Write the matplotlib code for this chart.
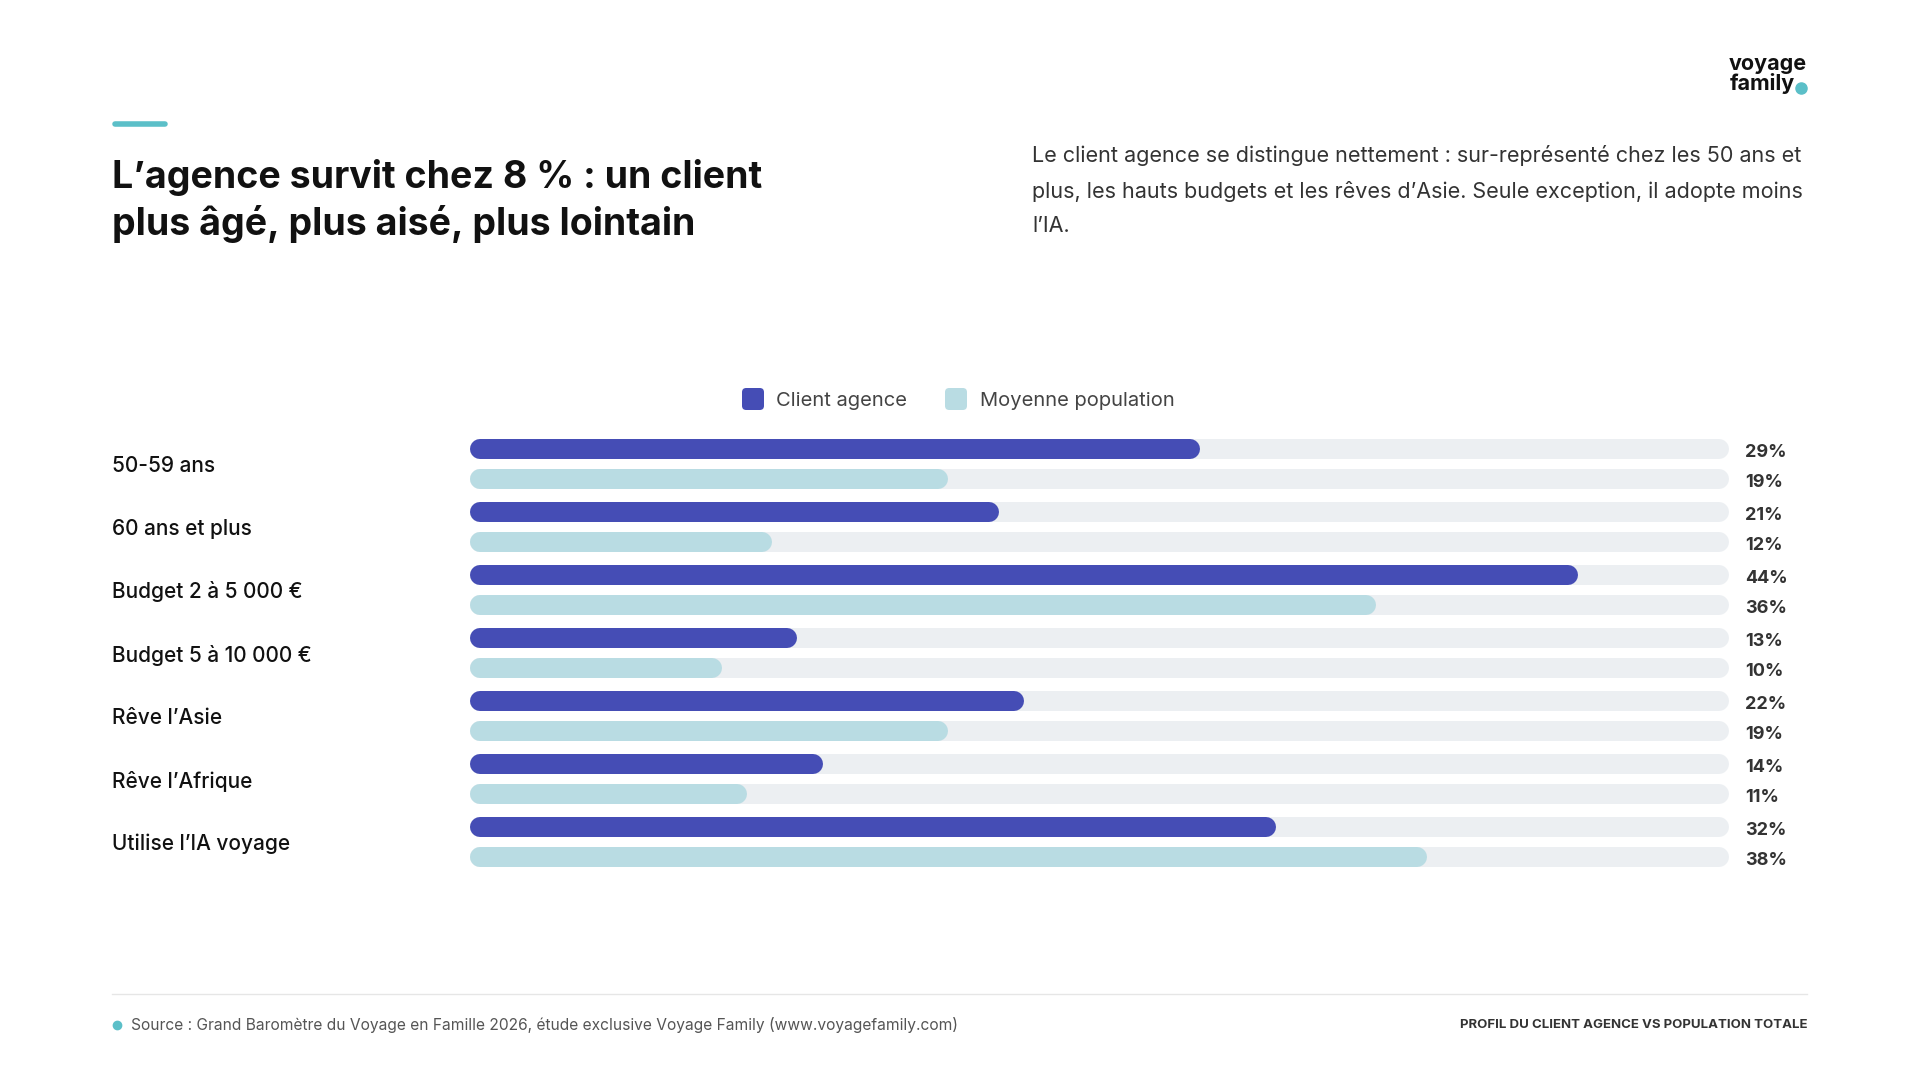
"""
Profil du client agence vs population totale: paired horizontal bars.
"""
import matplotlib.pyplot as plt
from matplotlib.patches import FancyBboxPatch
from matplotlib.transforms import blended_transform_factory

plt.rcParams['font.family'] = ['Inter', 'DejaVu Sans']

# data
categories = ["50-59 ans", "60 ans et plus", "Budget 2 à 5 000 €", "Budget 5 à 10 000 €",
              "Rêve l’Asie", "Rêve l’Afrique", "Utilise l’IA voyage"]
client_agence = [29, 21, 44, 13, 22, 14, 32]
moyenne_population = [19, 12, 36, 10, 19, 11, 38]
series_names = ["Client agence", "Moyenne population"]
scale_max = 50

TITLE = "L’agence survit chez 8 % : un client\nplus âgé, plus aisé, plus lointain"
INTRO = ["Le client agence se distingue nettement : sur-représenté chez les 50 ans et",
         "plus, les hauts budgets et les rêves d’Asie. Seule exception, il adopte moins",
         "l’IA."]
SOURCE = "Source : Grand Baromètre du Voyage en Famille 2026, étude exclusive Voyage Family (www.voyagefamily.com)"
FOOTER_RIGHT = "PROFIL DU CLIENT AGENCE VS POPULATION TOTALE"

INDIGO = "#454db5"
LIGHT = "#b9dce3"
TRACK = "#eceff2"
TEAL = "#5bbfc8"

W, H = 1920, 1080
fig = plt.figure(figsize=(W / 100, H / 100), dpi=100)
fig.patch.set_facecolor("white")


def fx(px):
    return px / W


def fy(py):
    return 1 - py / H


# header
fig.add_artist(plt.Line2D([fx(115), fx(165)], [fy(124), fy(124)], color=TEAL, lw=4,
                          solid_capstyle="round"))
fig.text(fx(112), fy(201), TITLE, fontsize=27, fontweight="bold", color="#111111",
         va="center", ha="left", linespacing=1.32)
for i, line in enumerate(INTRO):
    fig.text(fx(1032), fy(156 + i * 35), line, fontsize=15.5, color="#333333",
             va="center", ha="left")

# logo
fig.text(fx(1807), fy(64), "voyage", fontsize=15.5, fontweight="bold", color="#111111",
         ha="right", va="center")
fig.text(fx(1795), fy(84), "family", fontsize=15.5, fontweight="bold", color="#111111",
         ha="right", va="center")
fig.add_artist(plt.Line2D([fx(1801)], [fy(88)], marker="o", markersize=8,
                          color=TEAL, lw=0))

# legend
for x_sq, x_txt, col, name in [(742, 776, INDIGO, series_names[0]),
                               (945, 980, LIGHT, series_names[1])]:
    fig.add_artist(FancyBboxPatch((fx(x_sq), fy(410)), fx(22), 22 / H,
                                  boxstyle="round,pad=0,rounding_size=0.0022",
                                  mutation_aspect=W / H, transform=fig.transFigure,
                                  facecolor=col, edgecolor="none"))
    fig.text(fx(x_txt), fy(399), name, fontsize=14.5, color="#444444",
             va="center_baseline", ha="left")

# bars
ax_left, ax_right = 470, 1729
ax_top, ax_h = 426.2, 453.6
ax = fig.add_axes([fx(ax_left), 1 - (ax_top + ax_h) / H, (ax_right - ax_left) / W, ax_h / H])
ax.set_xlim(0, scale_max)
ax.set_ylim(6.6, -0.6)
ax.axis("off")

bar_px = 20
lw_pt = bar_px * 72 / 100
r = (bar_px / 2) * scale_max / (ax_right - ax_left)
offset = 0.24

lab_tr = blended_transform_factory(fig.transFigure, ax.transData)
for i, cat in enumerate(categories):
    for val, col, dy in [(client_agence[i], INDIGO, -offset),
                         (moyenne_population[i], LIGHT, offset)]:
        y = i + dy
        ax.plot([r, scale_max - r], [y, y], color=TRACK, lw=lw_pt, solid_capstyle="round")
        ax.plot([r, val - r], [y, y], color=col, lw=lw_pt, solid_capstyle="round")
        ax.text(fx(1745), y + 0.02, f"{val}%", transform=lab_tr, fontsize=13,
                fontweight="bold", color="#333333", va="center_baseline", ha="left")
    ax.text(fx(112), i, cat, transform=lab_tr, fontsize=15, fontweight="medium",
            color="#111111", va="center_baseline", ha="left")

# footer
fig.add_artist(plt.Line2D([fx(112), fx(1807)], [fy(994), fy(994)], color="#e6e6e6", lw=1))
fig.add_artist(plt.Line2D([fx(117)], [fy(1025)], marker="o", markersize=6,
                          color=TEAL, lw=0))
fig.text(fx(131), fy(1025), SOURCE, fontsize=11.2, color="#555555", va="center", ha="left")
fig.text(fx(1807), fy(1025), FOOTER_RIGHT, fontsize=9.5, fontweight="bold",
         color="#333333", va="center", ha="right")

fig.savefig("out.png", dpi=100, facecolor="white")
